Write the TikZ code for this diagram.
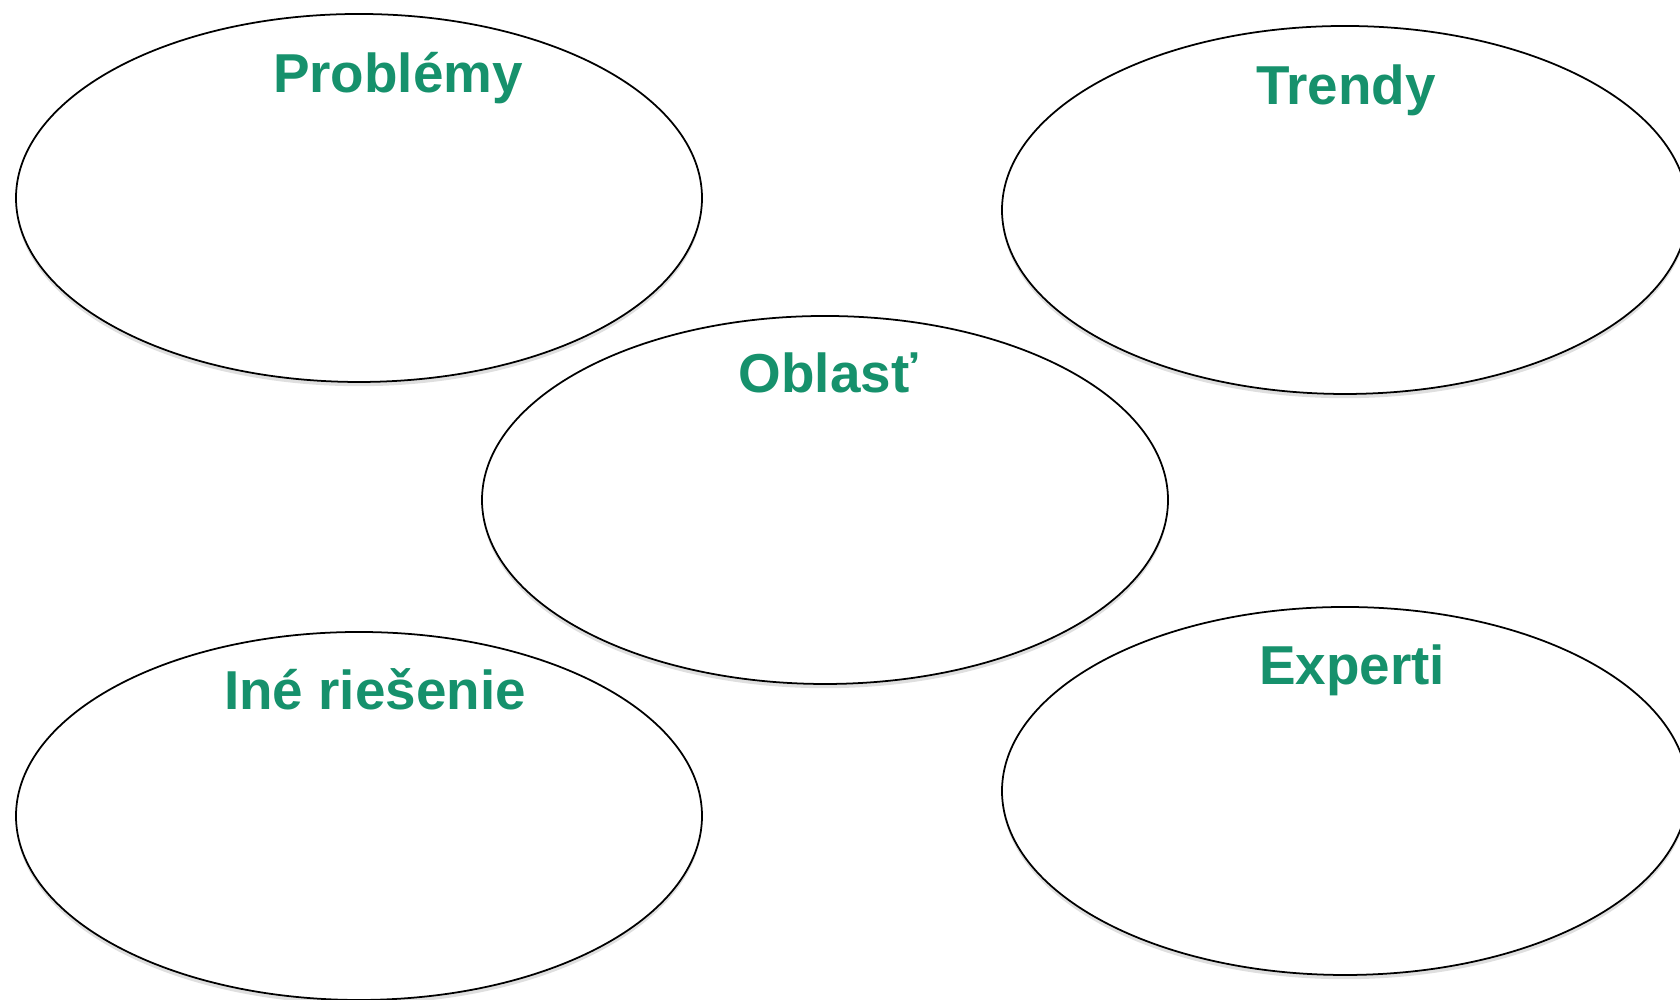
\documentclass[tikz,border=0pt]{standalone}
\usepackage{fontspec}
\setmainfont{Liberation Sans}
\usepackage{tikz}
\usetikzlibrary{shapes.geometric,shadows}
\definecolor{headgreen}{RGB}{22,145,108}
\tikzset{
  bubble/.style={ellipse, draw=black, line width=0.5pt, fill=white,
    minimum width=6.86cm, minimum height=3.68cm, inner sep=0pt,
    drop shadow={shadow xshift=0pt, shadow yshift=-1.2pt, opacity=0.25}},
  heading/.style={anchor=base, text=headgreen, inner sep=0pt,
    font=\fontsize{15.6}{18}\selectfont\bfseries}
}

\begin{document}
\begin{tikzpicture}
  \useasboundingbox (0,0) rectangle (16.8,10);
  % ovals
  \node [bubble] (problemy) at (3.59,8.02) {};
  \node [bubble] (trendy) at (13.45,7.90) {};
  \node [bubble] (oblast) at (8.25,5.00) {};
  \node [bubble] (ine) at (3.59,1.84) {};
  \node [bubble] (experti) at (13.45,2.09) {};
  % titles
  \node [heading] (problemytxt) at (3.98,9.07) {Problémy};
  \node [heading] (trendytxt) at (13.46,8.95) {Trendy};
  \node [heading] (oblasttxt) at (8.28,6.07) {Oblasť};
  \node [heading] (inetxt) at (3.75,2.90) {Iné riešenie};
  \node [heading] (expertitxt) at (13.52,3.15) {Experti};
\end{tikzpicture}
\end{document}
